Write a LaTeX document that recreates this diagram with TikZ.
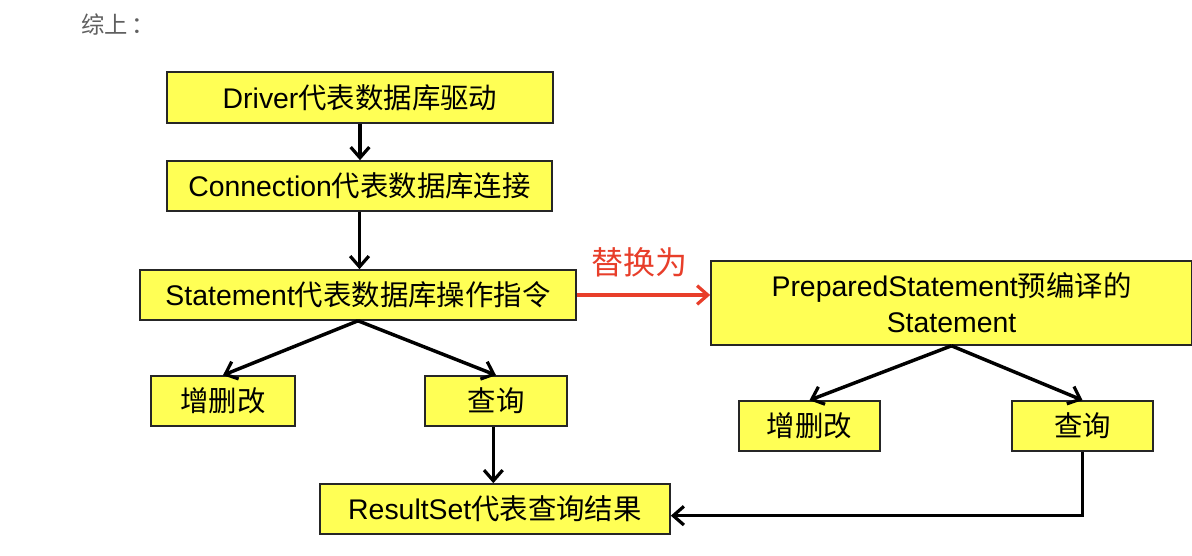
\documentclass[tikz,border=0pt]{standalone}
\usepackage{fontspec}
\setmainfont{Liberation Sans}
\newfontfamily\cjk{Noto Sans CJK SC}
\usetikzlibrary{arrows.meta}
\definecolor{boxyellow}{RGB}{255,255,85}
\definecolor{redarrow}{RGB}{232,62,42}
\definecolor{captiongray}{RGB}{95,95,95}
\tikzset{
  ybox/.style 2 args={draw=black!85, line width=1.2pt, fill=boxyellow, inner sep=0pt,
    minimum width=#1*0.75pt, minimum height=#2*0.75pt,
    font=\fontsize{21.3}{27}\selectfont, align=center},
  arr/.style={draw=black, line width=2.6pt, -{Straight Barb[length=8pt,width=14pt,line width=2.4pt]}},
  redarr/.style={draw=redarrow, line width=2.6pt, -{Straight Barb[length=8pt,width=14pt,line width=2.4pt]}},
}
\begin{document}
\begin{tikzpicture}[x=0.75pt,y=-0.75pt]
\fill[white] (0,0) rectangle (1192,556);
\useasboundingbox (0,0) rectangle (1192,556);

\node[text=captiongray, font=\cjk\fontsize{17.5}{20}\selectfont] (cap) at (118,25) {综上\,：};

\node[ybox={386}{51}] (drv) at (360,97.5) {Driver{\cjk 代表数据库驱动}};
\node[ybox={385}{50}] (con) at (359.5,186) {Connection{\cjk 代表数据库连接}};
\node[ybox={436}{50}] (st) at (358,295) {Statement{\cjk 代表数据库操作指令}};
\node[ybox={144}{50}, font=\cjk\fontsize{21.3}{27}\selectfont] (a1) at (223,401) {增删改};
\node[ybox={142}{50}, font=\cjk\fontsize{21.3}{27}\selectfont] (q1) at (496,401) {查询};
\node[ybox={350}{50}] (rs) at (495,509) {ResultSet{\cjk 代表查询结果}};

\node[ybox={481}{84}] (ps) at (951.5,303) {PreparedStatement{\cjk 预编译的}\\Statement};
\node[ybox={141}{50}, font=\cjk\fontsize{21.3}{27}\selectfont] (a2) at (809.5,426) {增删改};
\node[ybox={141}{50}, font=\cjk\fontsize{21.3}{27}\selectfont] (q2) at (1082.5,426) {查询};

\node[text=redarrow, font=\cjk\fontsize{24}{28}\selectfont] (lbl) at (639,262) {替换为};

\draw[arr] (drv.south) -- (drv.south |- con.north);
\draw[arr] (con.south) -- (con.south |- st.north);
\draw[arr] (st.south) -- (a1.north);
\draw[arr] (st.south) -- (q1.north);
\draw[arr] ([xshift=-2pt]q1.south) -- ([xshift=-2pt]q1.south |- rs.north);
\draw[redarr] (st.east) -- (st.east -| ps.west);
\draw[arr] (ps.south) -- (a2.north);
\draw[arr] (ps.south) -- (q2.north);
\draw[arr] (q2.south) |- ([yshift=-5pt]rs.east);
\end{tikzpicture}
\end{document}
